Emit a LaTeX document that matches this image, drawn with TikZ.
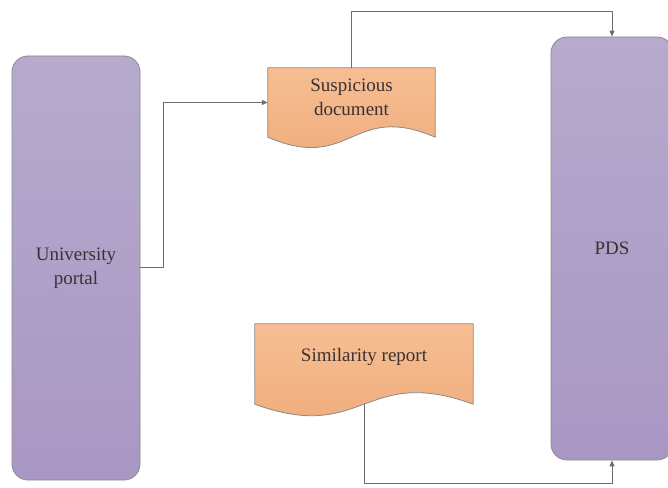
\documentclass[tikz,border=0pt]{standalone}
\usepackage{fontspec}
\setmainfont{Liberation Serif}
\usetikzlibrary{arrows.meta, positioning, calc, backgrounds}
\definecolor{PurpleTop}{HTML}{B6AACD}
\definecolor{PurpleBottom}{HTML}{A897C3}
\definecolor{OrangeTop}{HTML}{F6BE93}
\definecolor{OrangeBottom}{HTML}{EFAA78}
\definecolor{EdgeGray}{HTML}{8A8A8A}
\definecolor{LineGray}{HTML}{6E6E6E}
\definecolor{DarkText}{HTML}{3A3232}

\begin{document}
\begin{tikzpicture}[x=1pt, y=1pt,
    procbox/.style={draw=EdgeGray, rounded corners=16pt, line width=0.8pt,
      top color=PurpleTop, bottom color=PurpleBottom, text=DarkText,
      align=center, font=\fontsize{19}{24}\selectfont},
    docbox/.style={inner sep=0pt, align=center, text=DarkText,
      font=\fontsize{19}{24}\selectfont},
    docedge/.style={draw=EdgeGray, line width=0.8pt,
      top color=OrangeTop, bottom color=OrangeBottom},
    flow/.style={draw=LineGray, line width=1pt,
      -{Triangle[length=6pt, width=5pt]}}]

  \useasboundingbox (0,0) rectangle (668,487);

  % main blocks
  \node[procbox, minimum width=128, minimum height=424] (portal) at (76,219)
    {University\\portal};
  \node[procbox, minimum width=122, minimum height=423] (pds) at (612,238.5)
    {PDS};

  % documents
  \node[docbox, minimum width=167, minimum height=69, text depth=10pt] (susp)
    at (351.5,384.5) {Suspicious\\document};
  \node[docbox, minimum width=218, minimum height=80, text depth=18pt] (simrep)
    at (364,123) {Similarity report};

  \begin{scope}[on background layer]
    \foreach \d/\amp in {susp/36, simrep/40}{
      \draw[docedge] (\d.south east)
        .. controls ($(\d.south)+(0,\amp)$) and ($(\d.south)+(0,-\amp)$) ..
        (\d.south west) -- (\d.north west) -- (\d.north east) -- cycle;
    }
  \end{scope}

  % flows
  \draw[flow] (portal.east) -- ++(23,0) |- (susp.west);
  \draw[flow] (susp.north) -- ++(0,56) -| (pds.north);
  \draw[flow] (simrep.south) -- ++(0,-79) -| (pds.south);
\end{tikzpicture}
\end{document}
